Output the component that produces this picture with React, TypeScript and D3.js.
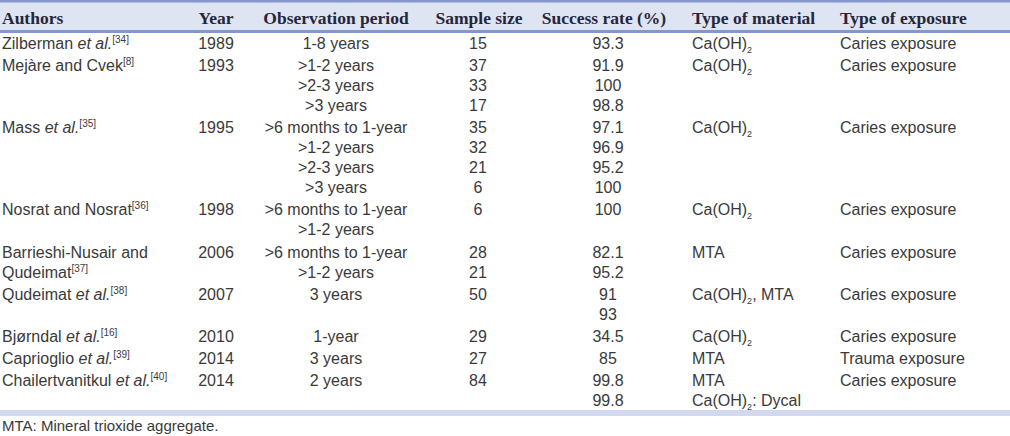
import React from "react";
import * as d3 from "d3";

// ---- Data ----
const headers = ["Authors", "Year", "Observation period", "Sample size", "Success rate (%)", "Type of material", "Type of exposure"];
// markup: *italic*, ^sup^, _x subscript single char
const authors: string[][] = [
  ["Zilberman *et al.*^[34]^"],
  ["Mejàre and Cvek^[8]^"],
  ["Mass *et al.*^[35]^"],
  ["Nosrat and Nosrat^[36]^"],
  ["Barrieshi-Nusair and", "Qudeimat^[37]^"],
  ["Qudeimat *et al.*^[38]^"],
  ["Bjørndal *et al.*^[16]^"],
  ["Caprioglio *et al.*^[39]^"],
  ["Chailertvanitkul *et al.*^[40]^"],
];
const years = ["1989", "1993", "1995", "1998", "2006", "2007", "2010", "2014", "2014"];
const periods: string[][] = [
  ["1-8 years"],
  [">1-2 years", ">2-3 years", ">3 years"],
  [">6 months to 1-year", ">1-2 years", ">2-3 years", ">3 years"],
  [">6 months to 1-year", ">1-2 years"],
  [">6 months to 1-year", ">1-2 years"],
  ["3 years"],
  ["1-year"],
  ["3 years"],
  ["2 years"],
];
const sampleSizes: string[][] = [["15"], ["37", "33", "17"], ["35", "32", "21", "6"], ["6"], ["28", "21"], ["50"], ["29"], ["27"], ["84"]];
const successRates: string[][] = [["93.3"], ["91.9", "100", "98.8"], ["97.1", "96.9", "95.2", "100"], ["100"], ["82.1", "95.2"], ["91", "93"], ["34.5"], ["85"], ["99.8", "99.8"]];
const materials: string[][] = [["Ca(OH)_2"], ["Ca(OH)_2"], ["Ca(OH)_2"], ["Ca(OH)_2"], ["MTA"], ["Ca(OH)_2, MTA"], ["Ca(OH)_2"], ["MTA"], ["MTA", "Ca(OH)_2: Dycal"]];
const exposures: string[][] = [["Caries exposure"], ["Caries exposure"], ["Caries exposure"], ["Caries exposure"], ["Caries exposure"], ["Caries exposure"], ["Caries exposure"], ["Trauma exposure"], ["Caries exposure"]];
const footnote = "MTA: Mineral trioxide aggregate.";

// ---- Layout ----
const W = 1010, H = 436;
const BODY_FONT = "'Liberation Sans', Arial, Helvetica, sans-serif";
const HEAD_FONT = "'Liberation Serif', 'Times New Roman', serif";
const TEXT = "#3a3a3a";

type Tok = { t: string; s: "n" | "i" | "sup" | "sub" };
function parse(str: string): Tok[] {
  const toks: Tok[] = [];
  let i = 0, buf = "";
  const flush = () => { if (buf) { toks.push({ t: buf, s: "n" }); buf = ""; } };
  while (i < str.length) {
    const c = str[i];
    if (c === "*") {
      const j = str.indexOf("*", i + 1);
      flush(); toks.push({ t: str.slice(i + 1, j), s: "i" }); i = j + 1;
    } else if (c === "^") {
      const j = str.indexOf("^", i + 1);
      flush(); toks.push({ t: str.slice(i + 1, j), s: "sup" }); i = j + 1;
    } else if (c === "_") {
      flush(); toks.push({ t: str[i + 1], s: "sub" }); i += 2;
    } else { buf += c; i++; }
  }
  flush();
  return toks;
}

function Rich({ str, x, y, anchor = "start", size = 16 }: { str: string; x: number; y: number; anchor?: string; size?: number }) {
  const toks = parse(str);
  let off = 0;
  return (
    <text x={x} y={y} textAnchor={anchor as any} fontFamily={BODY_FONT} fontSize={size} fill={TEXT}>
      {toks.map((tk, k) => {
        let target = 0, fs = size, fi = "normal";
        if (tk.s === "sup") { target = -6; fs = 10; }
        if (tk.s === "sub") { target = 4; fs = 9; }
        if (tk.s === "i") fi = "italic";
        const dy = target - off;
        off = target;
        return (
          <tspan key={k} dy={dy} fontSize={fs} fontStyle={fi} style={{ whiteSpace: "pre" }}>{tk.t}</tspan>
        );
      })}
    </text>
  );
}

export default function App() {
  const lineY = d3.scaleLinear().domain([0, 1]).range([43, 63]);
  const GROUP_GAP = 2.2;
  const BASE = 5.7;

  const groupLines = periods.map((p, g) => Math.max(p.length, authors[g].length, sampleSizes[g].length, successRates[g].length, materials[g].length, exposures[g].length));
  const starts: number[] = [];
  let acc = 0;
  groupLines.forEach((n) => { starts.push(acc); acc += n; });
  const yOf = (g: number, k: number) => lineY(starts[g] + k) + g * GROUP_GAP + BASE;

  const cols = [
    { data: authors, x: 2, anchor: "start" },
    { data: years.map((y) => [y]), x: 216, anchor: "middle" },
    { data: periods, x: 336, anchor: "middle" },
    { data: sampleSizes, x: 478, anchor: "middle" },
    { data: successRates, x: 608, anchor: "middle" },
    { data: materials, x: 692, anchor: "start" },
    { data: exposures, x: 840, anchor: "start" },
  ];
  const headPos = [
    { x: 2, anchor: "start" },
    { x: 216, anchor: "middle" },
    { x: 336, anchor: "middle" },
    { x: 479, anchor: "middle" },
    { x: 604, anchor: "middle" },
    { x: 692, anchor: "start" },
    { x: 840, anchor: "start" },
  ];

  return (
    <svg width={W} height={H} style={{ position: "absolute", left: 0, top: 0, background: "#fff" }}>
      <rect x={0} y={0} width={W} height={32} fill="#dfe4f2" />
      <rect x={0} y={0} width={W} height={2.5} fill="#8397cc" />
      <rect x={0} y={30} width={W} height={3} fill="#8397cc" />
      {headers.map((h, i) => (
        <text key={h} x={headPos[i].x} y={23.5} textAnchor={headPos[i].anchor as any} fontFamily={HEAD_FONT} fontWeight="bold" fontSize={17.5} fill="#25263a">{h}</text>
      ))}
      {cols.map((c, ci) =>
        c.data.map((lines, g) =>
          lines.map((s, k) => (
            <Rich key={`${ci}-${g}-${k}`} str={s} x={c.x} y={yOf(g, k)} anchor={c.anchor} />
          ))
        )
      )}
      <rect x={0} y={410} width={W} height={6} fill="#d2d8ee" />
      <text x={2} y={431} fontFamily={BODY_FONT} fontSize={15} fill={TEXT}>{footnote}</text>
    </svg>
  );
}
